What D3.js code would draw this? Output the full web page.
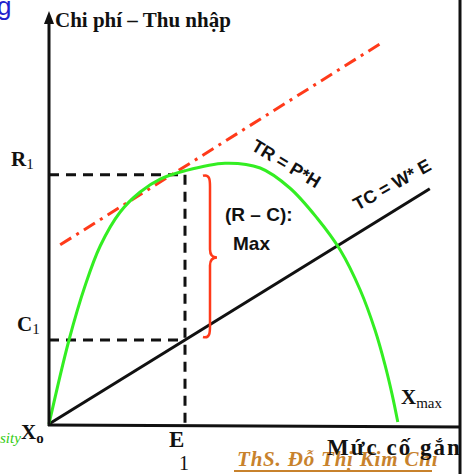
<!DOCTYPE html>
<html lang="vi">
<head>
<meta charset="UTF-8">
<title>Chi phí – Thu nhập</title>
<script src="https://d3js.org/d3.v7.min.js"></script>
<style>
  body { margin: 0; background: #fff; }
  svg { display: block; }
  .serif { font-family: "Liberation Serif", "DejaVu Serif", serif; font-weight: bold; fill: #111; }
  .sans { font-family: "Liberation Sans", Arial, sans-serif; font-weight: bold; fill: #111; }
</style>
</head>
<body>
<svg id="chart" width="463" height="474"></svg>
<script>
// effort (x) vs money (y), arbitrary units 0..100
var trCurve = [
  [0, 0], [5, 21], [9, 34.5], [12.8, 44.5], [17.8, 53], [22.8, 58], [27.8, 61.2],
  [34, 63.3], [44, 65.2], [52.8, 64], [60.2, 59], [67, 51.5], [72.8, 43.5],
  [77.8, 33.5], [81.5, 23.5], [84, 14.8], [85.8, 7.3], [87.2, 0.5]
];
var tcLine = [[0, 0], [95.2, 58.8]];
var tangentLine = [[2.8, 44.8], [83.5, 95.5]];
var e1 = 34;          // optimal effort
var r1 = 62.3;        // revenue at E1
var c1 = 21;          // cost at E1
var yTicks = [{v: r1, main: "R", sub: "1", x: 11}, {v: c1, main: "C", sub: "1", x: 17}];

var svg = d3.select("#chart");
var x = d3.scaleLinear().domain([0, 100]).range([49, 449]);
var y = d3.scaleLinear().domain([0, 100]).range([424, 24]);
var line = d3.line().x(function(d) { return x(d[0]); }).y(function(d) { return y(d[1]); });

// cut-off slide fragments
svg.append("text").attr("x", -3).attr("y", 15)
  .style("font-family", "Liberation Sans, Arial, sans-serif").style("font-size", "26px")
  .attr("fill", "#2222cc").text("g");
svg.append("text").attr("x", 0).attr("y", 443)
  .style("font-family", "Liberation Serif, serif").style("font-style", "italic").style("font-size", "15px")
  .attr("fill", "#33cc11").text("sity");

// dashed guides
var guide = svg.append("g").attr("stroke", "#111").attr("stroke-width", 3)
  .attr("stroke-dasharray", "10,7").attr("fill", "none");
guide.append("path").attr("d", line([[0, r1], [e1, r1], [e1, 0]]));
guide.append("path").attr("d", line([[0, c1], [e1, c1]]));

// tangent line (dash-dot)
svg.append("path").attr("d", line(tangentLine)).attr("fill", "none")
  .attr("stroke", "#ff3a1a").attr("stroke-width", 3).attr("stroke-dasharray", "13,6,3,6");

// TC
svg.append("path").attr("d", line(tcLine)).attr("fill", "none")
  .attr("stroke", "#111").attr("stroke-width", 3);

// TR
svg.append("path").attr("d", line.curve(d3.curveCatmullRom)(trCurve)).attr("fill", "none")
  .attr("stroke", "#33ee22").attr("stroke-width", 3);
line.curve(d3.curveLinear);

// axes
svg.append("line").attr("x1", x(0)).attr("x2", x(0)).attr("y1", y(0) + 2).attr("y2", 22)
  .attr("stroke", "#111").attr("stroke-width", 3);
svg.append("path").attr("d", "M" + (x(0) - 5) + ",24L" + x(0) + ",11L" + (x(0) + 5) + ",24Z").attr("fill", "#111");
svg.append("line").attr("x1", x(0) - 1).attr("x2", 463).attr("y1", y(0) + 1).attr("y2", y(0) + 3)
  .attr("stroke", "#111").attr("stroke-width", 3);

// brace between R1 and C1
var bx = 203, yt = y(r1), yb = y(c1) - 2, ym = (yt + yb) / 2 + 1, tip = 217, bw = 7;
var brace = "M" + bx + "," + (yt + 1) +
  "C" + (bx + bw) + "," + (yt - 1) + " " + (bx + bw) + "," + (yt + 6) + " " + (bx + bw) + "," + (yt + 12) +
  "L" + (bx + bw) + "," + (ym - 8) +
  "C" + (bx + bw) + "," + (ym - 2) + " " + (tip - 4) + "," + ym + " " + tip + "," + ym +
  "C" + (tip - 4) + "," + ym + " " + (bx + bw) + "," + (ym + 2) + " " + (bx + bw) + "," + (ym + 8) +
  "L" + (bx + bw) + "," + (yb - 12) +
  "C" + (bx + bw) + "," + (yb - 6) + " " + (bx + bw) + "," + (yb + 1) + " " + bx + "," + (yb - 1);
svg.append("path").attr("d", brace).attr("fill", "none").attr("stroke", "#ff3a1a").attr("stroke-width", 2.5);

// y-axis labels
yTicks.forEach(function(t) {
  var tx = svg.append("text").attr("class", "serif").attr("x", t.x)
    .attr("y", y(t.v) - 9).style("font-size", "21px");
  tx.append("tspan").text(t.main);
  tx.append("tspan").attr("dy", 3).style("font-size", "15px").style("font-weight", "normal").text(t.sub);
});

// origin label
var xo = svg.append("text").attr("class", "serif").attr("x", 21).attr("y", 439).style("font-size", "21px");
xo.append("tspan").text("X");
xo.append("tspan").attr("dy", 4).style("font-size", "15px").text("o");

// E1
svg.append("text").attr("class", "serif").attr("x", x(e1) - 16).attr("y", 447).style("font-size", "23px").text("E");
svg.append("text").attr("class", "serif").attr("x", x(e1) - 6).attr("y", 470).style("font-size", "20px").style("font-weight", "normal").text("1");

// X max
var xm = svg.append("text").attr("class", "serif").attr("x", 401).attr("y", 404).style("font-size", "21px");
xm.append("tspan").text("X");
xm.append("tspan").attr("dy", 4).style("font-size", "15px").style("font-weight", "normal").text("max");

// signature (drawn under the axis title)
svg.append("text").attr("x", 237).attr("y", 466)
  .style("font-family", "Liberation Serif, serif").style("font-style", "italic").style("font-weight", "bold")
  .style("font-size", "21px").style("letter-spacing", "0.8px")
  .attr("fill", "#c8822c").text("ThS. Đỗ Thị Kim Chi");
svg.append("line").attr("x1", 234).attr("x2", 432).attr("y1", 471).attr("y2", 471)
  .attr("stroke", "#c8822c").attr("stroke-width", 2);

// axis titles
svg.append("text").attr("class", "serif").attr("x", 55).attr("y", 27).style("font-size", "21px").text("Chi phí – Thu nhập");
svg.append("text").attr("class", "serif").attr("x", 327).attr("y", 455).style("font-size", "23px")
  .style("letter-spacing", "2px").text("Mức cố gắng");

// curve labels
svg.append("text").attr("class", "sans").attr("text-anchor", "middle")
  .attr("transform", "translate(283,169) rotate(31)").style("font-size", "18px").text("TR = P*H");
svg.append("text").attr("class", "sans").attr("text-anchor", "middle")
  .attr("transform", "translate(395,190) rotate(-29)").style("font-size", "18px").text("TC = W* E");
svg.append("text").attr("class", "sans").attr("x", 225).attr("y", 221).style("font-size", "19px").text("(R – C):");
svg.append("text").attr("class", "sans").attr("x", 233).attr("y", 250).style("font-size", "19px").text("Max");

// right frame border, clipping the title beyond it
svg.append("rect").attr("x", 459).attr("y", 0).attr("width", 4).attr("height", 474).attr("fill", "#fff");
svg.append("line").attr("x1", 460).attr("x2", 460).attr("y1", 0).attr("y2", 474)
  .attr("stroke", "#111").attr("stroke-width", 3);
</script>
</body>
</html>
